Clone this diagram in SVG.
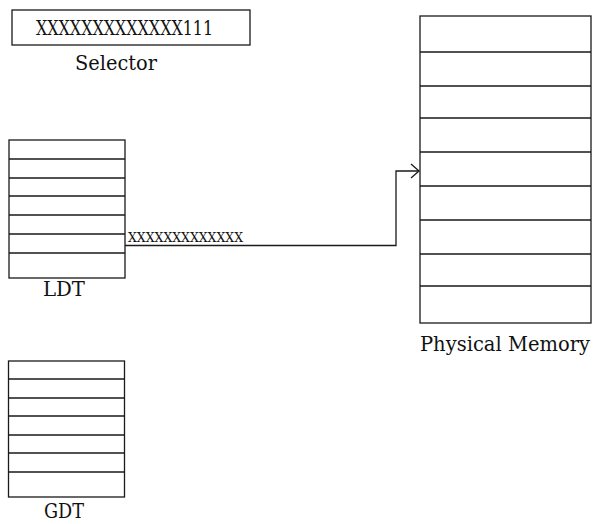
<svg xmlns="http://www.w3.org/2000/svg" width="593" height="524" viewBox="0 0 593 524">
<style>
.box{fill:#fff;stroke:#1a1a1a;stroke-width:1.3}
.ln{stroke:#1a1a1a;stroke-width:1.3;fill:none}
.lbl{font-family:"DejaVu Serif","Liberation Serif",serif;font-size:20px;fill:#111}
.bits{font-family:"DejaVu Serif","Liberation Serif",serif;fill:#111}
</style>
<defs>
<marker id="arr" markerWidth="12" markerHeight="16" refX="9" refY="8" orient="auto" markerUnits="userSpaceOnUse">
<path d="M1,1 L9,8 L1,15" fill="none" stroke="#1a1a1a" stroke-width="1.3"/>
</marker>
</defs>
<rect width="593" height="524" fill="#fff"/>
<g id="selector">
<rect class="box" x="12" y="10" width="238" height="35"/>
<text class="bits" x="36" y="35" font-size="20" textLength="177" lengthAdjust="spacingAndGlyphs">XXXXXXXXXXXXX111</text>
<text class="lbl" x="75" y="70" textLength="82" lengthAdjust="spacingAndGlyphs">Selector</text>
</g>
<g id="ldt">
<rect class="box" x="9" y="140" width="116" height="138"/>
<path class="ln" d="M9,159H125M9,178H125M9,196H125M9,215H125M9,234H125M9,253H125"/>
<text class="lbl" x="43" y="296" textLength="42" lengthAdjust="spacingAndGlyphs">LDT</text>
</g>
<g id="gdt">
<rect class="box" x="8.5" y="361" width="116" height="136"/>
<path class="ln" d="M8.5,379H124.5M8.5,398H124.5M8.5,416H124.5M8.5,435H124.5M8.5,453H124.5M8.5,472H124.5"/>
<text class="lbl" x="44" y="518" font-size="19" textLength="40" lengthAdjust="spacingAndGlyphs">GDT</text>
</g>
<g id="memory">
<rect class="box" x="420" y="16" width="171" height="307"/>
<path class="ln" d="M420,52H591M420,86H591M420,118H591M420,152H591M420,186H591M420,220H591M420,254H591M420,286H591"/>
<text class="lbl" x="420" y="351" textLength="170" lengthAdjust="spacingAndGlyphs">Physical Memory</text>
</g>
<g id="connectors">
<path class="ln" d="M125,245.5H396V171H419" marker-end="url(#arr)"/>
<text class="bits" x="128" y="242" font-size="12.5" textLength="115" lengthAdjust="spacingAndGlyphs">XXXXXXXXXXXXX</text>
</g>
</svg>
